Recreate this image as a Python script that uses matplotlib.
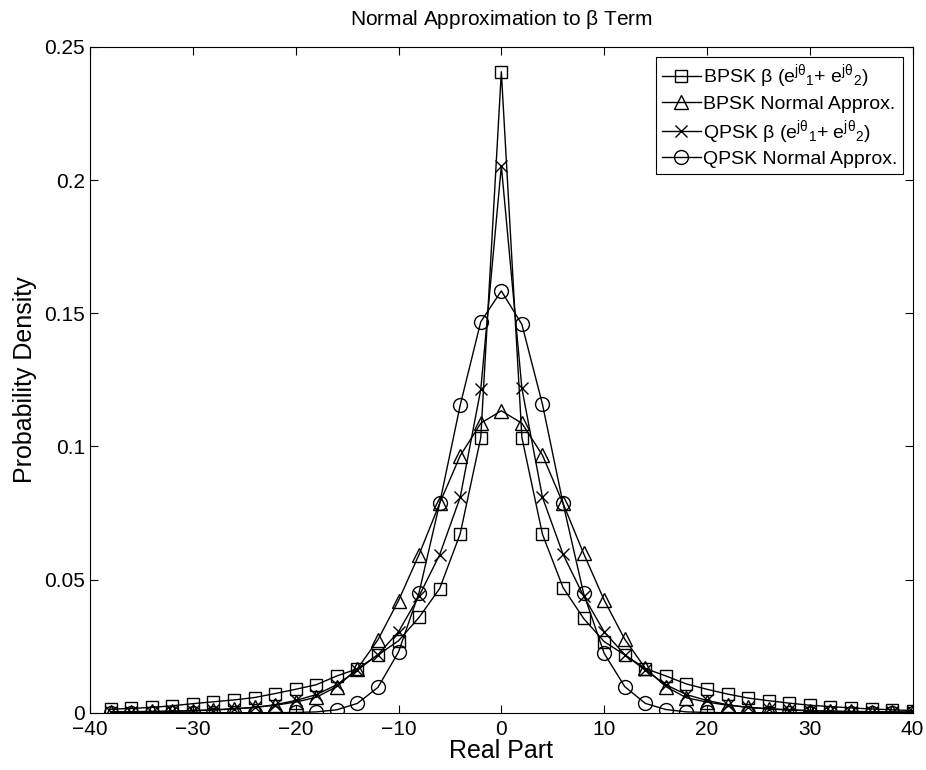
import matplotlib
matplotlib.use("Agg")
import matplotlib.pyplot as plt
from matplotlib.ticker import FuncFormatter

plt.rcParams["font.family"] = ["Liberation Sans", "DejaVu Sans"]
plt.rcParams["mathtext.fontset"] = "custom"
plt.rcParams["mathtext.rm"] = "Liberation Sans"
plt.rcParams["mathtext.it"] = "Liberation Sans"
plt.rcParams["mathtext.default"] = "regular"

# ---- data ----
x = list(range(-38, 42, 2))

bpsk_beta = [0.0013, 0.0016, 0.0020, 0.0026, 0.0034, 0.0041, 0.0048, 0.0057, 0.0072, 0.0088,
             0.0105, 0.0138, 0.0165, 0.0217, 0.0270, 0.0358, 0.0466, 0.0672, 0.1033, 0.2407,
             0.1033, 0.0670, 0.0470, 0.0354, 0.0267, 0.0217, 0.0166, 0.0138, 0.0108, 0.0088,
             0.0070, 0.0055, 0.0045, 0.0036, 0.0028, 0.0023, 0.0018, 0.0014, 0.0011, 0.0008]

bpsk_norm = [0.0003, 0.0004, 0.0005, 0.0006, 0.0008, 0.0011, 0.0015, 0.0020, 0.0028, 0.0040,
             0.0058, 0.0098, 0.0165, 0.0274, 0.0421, 0.0594, 0.0786, 0.0965, 0.1087, 0.1134,
             0.1087, 0.0967, 0.0786, 0.0598, 0.0423, 0.0276, 0.0167, 0.0098, 0.0056, 0.0040,
             0.0028, 0.0020, 0.0015, 0.0011, 0.0008, 0.0006, 0.0005, 0.0004, 0.0003, 0.0003]

qpsk_beta = [0.0002, 0.0003, 0.0004, 0.0005, 0.0007, 0.0010, 0.0014, 0.0020, 0.0030, 0.0046,
             0.0068, 0.0105, 0.0160, 0.0218, 0.0304, 0.0438, 0.0593, 0.0809, 0.1214, 0.2053,
             0.1218, 0.0809, 0.0595, 0.0438, 0.0304, 0.0218, 0.0160, 0.0105, 0.0068, 0.0046,
             0.0030, 0.0020, 0.0014, 0.0010, 0.0007, 0.0005, 0.0004, 0.0003, 0.0002, 0.0002]

qpsk_norm = [0.0, 0.0, 0.0, 0.0, 0.0, 0.0, 0.0, 0.0, 0.0, 0.0001,
             0.0003, 0.0011, 0.0035, 0.0095, 0.0228, 0.0451, 0.0786, 0.1155, 0.1468, 0.1584,
             0.1458, 0.1158, 0.0786, 0.0448, 0.0223, 0.0098, 0.0035, 0.0012, 0.0003, 0.0001,
             0.0, 0.0, 0.0, 0.0, 0.0, 0.0, 0.0, 0.0, 0.0, 0.0]

labels = [r"BPSK $\beta$ ($e^{j\theta}{}_1$+ $e^{j\theta}{}_2$)",
          "BPSK Normal Approx.",
          r"QPSK $\beta$ ($e^{j\theta}{}_1$+ $e^{j\theta}{}_2$)",
          "QPSK Normal Approx."]

fig = plt.figure(figsize=(9.26, 7.70), dpi=100)
ax = fig.add_axes([0.0972, 0.0744, 0.8884, 0.8646])

kw = dict(color="black", lw=1.0, mfc="none", mec="black", mew=1.0)
ax.plot(x, bpsk_beta, marker="s", ms=8.5, label=labels[0], **kw)
ax.plot(x, bpsk_norm, marker="^", ms=10, label=labels[1], **kw)
ax.plot(x, qpsk_beta, marker="x", ms=9, label=labels[2], **kw)
ax.plot(x, qpsk_norm, marker="o", ms=10, label=labels[3], **kw)

ax.set_xlim(-40, 40)
ax.set_ylim(0, 0.25)
ax.set_xticks(range(-40, 41, 10))
ax.set_yticks([0, 0.05, 0.1, 0.15, 0.2, 0.25])
ax.yaxis.set_major_formatter(FuncFormatter(lambda v, p: f"{v:g}"))
ax.tick_params(direction="in", top=True, right=True, length=6, labelsize=15, width=0.8)
ax.tick_params(axis="x", pad=5)
for s in ax.spines.values():
    s.set_linewidth(0.8)

ax.set_xlabel("Real Part", fontsize=18, labelpad=0)
ax.set_ylabel("Probability Density", fontsize=18, labelpad=5)
ax.set_title(r"Normal Approximation to $\beta$ Term", fontsize=15, pad=16)

leg = ax.legend(loc="upper right", fontsize=14, fancybox=False, framealpha=1,
                edgecolor="black", handlelength=2.0, handletextpad=0.1,
                borderpad=0.3, labelspacing=0.25, borderaxespad=0.5)
leg.get_frame().set_linewidth(0.8)

fig.savefig("out.png", dpi=100)
